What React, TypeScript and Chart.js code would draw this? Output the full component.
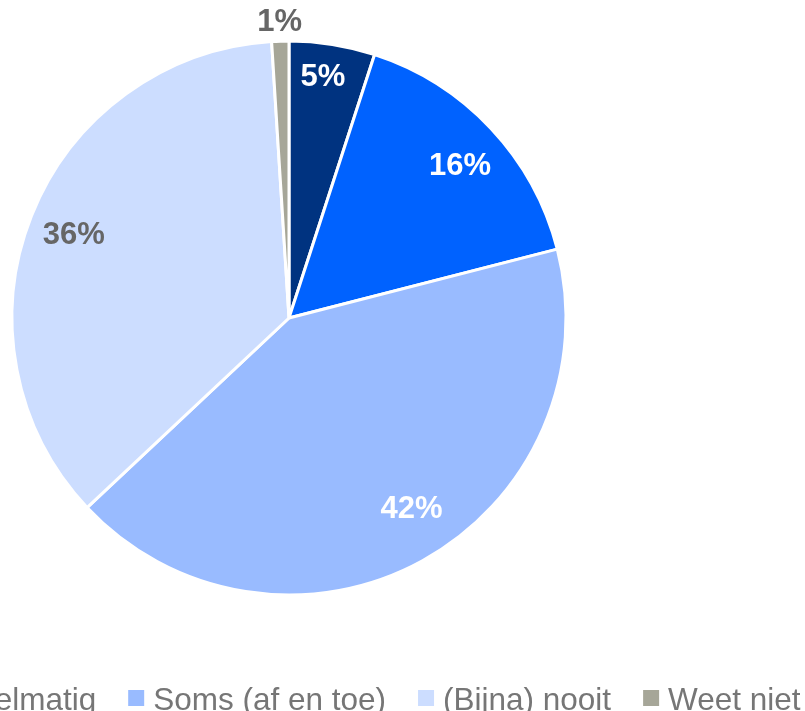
import React, { useEffect, useRef } from "react";
import { Chart, registerables } from "chart.js";

Chart.register(...registerables);

const categories = ["Vaak", "Regelmatig", "Soms (af en toe)", "(Bijna) nooit", "Weet niet"];
const values = [5, 16, 42, 36, 1];
const sliceColors = ["#003380", "#0062FF", "#99BBFF", "#CCDDFF", "#A6A698"];
const labelColors = ["#FFFFFF", "#FFFFFF", "#FFFFFF", "#666666", "#666666"];

const FONT = "'Liberation Sans', Arial, Helvetica, sans-serif";

// label placement (fraction of outer radius, angular nudge in degrees)
const labelPlacement = {
  radius: [0.881, 0.827, 0.819, 0.834, 1.072],
  nudgeDeg: [-1, 1.5, -3.9, -0.3, 0],
};

const pctLabels = {
  id: "pctLabels",
  afterDatasetsDraw(chart: any) {
    const ctx = chart.ctx;
    const meta = chart.getDatasetMeta(0);
    ctx.save();
    ctx.font = `bold 31px ${FONT}`;
    ctx.textAlign = "center";
    ctx.textBaseline = "middle";
    meta.data.forEach((arc: any, i: number) => {
      const p = arc.getProps(["x", "y", "startAngle", "endAngle", "outerRadius"], true);
      const mid = (p.startAngle + p.endAngle) / 2 + (labelPlacement.nudgeDeg[i] * Math.PI) / 180;
      const r = p.outerRadius * labelPlacement.radius[i];
      const x = p.x + Math.cos(mid) * r;
      const y = p.y + Math.sin(mid) * r;
      ctx.fillStyle = labelColors[i];
      ctx.fillText(`${values[i]}%`, x, y + 1);
    });
    ctx.restore();
  },
};

const LEGEND = { box: 16, textGap: 9, itemGap: 32, fontSize: 31.5, fromBottom: 16, offsetX: 4, color: "#767676" };

const customLegend = {
  id: "customLegend",
  afterDraw(chart: any) {
    const ctx = chart.ctx;
    const area = chart.chartArea;
    const bgs = chart.data.datasets[0].backgroundColor as string[];
    const labels = chart.data.labels as string[];
    ctx.save();
    ctx.font = `${LEGEND.fontSize}px ${FONT}`;
    const widths = labels.map((l) => ctx.measureText(l).width);
    const total =
      widths.reduce((a, b) => a + b, 0) +
      labels.length * (LEGEND.box + LEGEND.textGap) +
      (labels.length - 1) * LEGEND.itemGap;
    let x = (area.left + area.right) / 2 - total / 2 + LEGEND.offsetX;
    const baseline = chart.height - LEGEND.fromBottom;
    const boxTop = baseline - 20;
    ctx.textAlign = "left";
    ctx.textBaseline = "alphabetic";
    labels.forEach((l, i) => {
      ctx.fillStyle = bgs[i];
      ctx.fillRect(x, boxTop, LEGEND.box, LEGEND.box);
      x += LEGEND.box + LEGEND.textGap;
      ctx.fillStyle = LEGEND.color;
      ctx.fillText(l, x, baseline);
      x += widths[i] + LEGEND.itemGap;
    });
    ctx.restore();
  },
};

export default function App() {
  const ref = useRef<HTMLCanvasElement | null>(null);
  useEffect(() => {
    if (!ref.current) return;
    const chart = new Chart(ref.current, {
      type: "pie",
      data: {
        labels: categories,
        datasets: [
          {
            data: values,
            backgroundColor: sliceColors,
            borderColor: "#FFFFFF",
            borderWidth: 3,
            radius: 277,
          } as any,
        ],
      },
      options: {
        animation: false,
        responsive: false,
        devicePixelRatio: 1,
        layout: { padding: { top: 0, left: 0, right: 0, bottom: 74 } },
        plugins: {
          tooltip: { enabled: false },
          legend: { display: false },
        },
      },
      plugins: [pctLabels, customLegend],
    } as any);
    return () => chart.destroy();
  }, []);
  return (
    <div style={{ position: "fixed", left: 0, top: 0, width: 805, height: 711, overflow: "hidden", background: "#fff" }}>
      <canvas
        ref={ref}
        width={1100}
        height={742}
        style={{ position: "absolute", left: -261, top: -16, width: 1100, height: 742 }}
      />
    </div>
  );
}
